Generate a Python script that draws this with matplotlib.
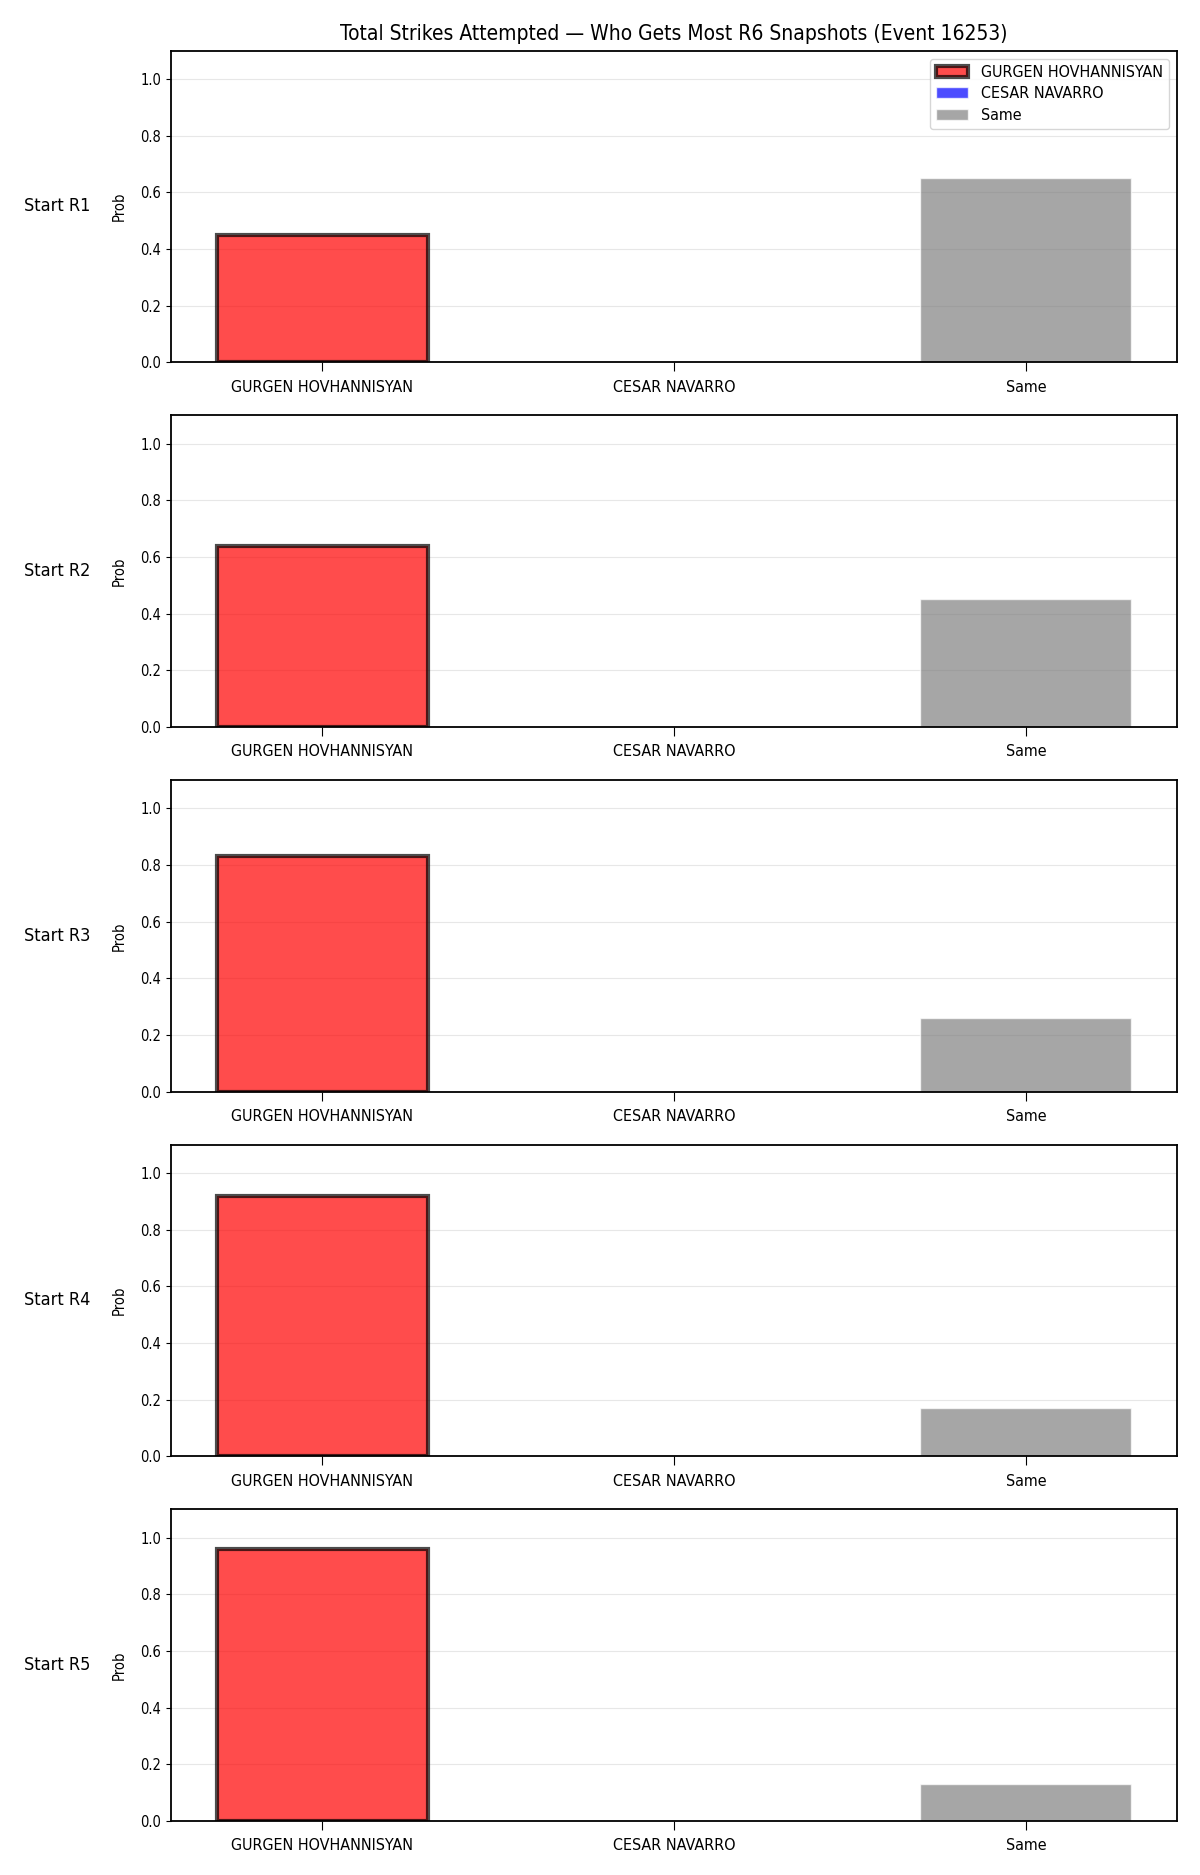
import numpy as np
import matplotlib
matplotlib.use("Agg")
import matplotlib.pyplot as plt

# Data
fighters = ["GURGEN HOVHANNISYAN", "CESAR NAVARRO", "Same"]
rounds = ["Start R1", "Start R2", "Start R3", "Start R4", "Start R5"]
p_gurgen = [0.45, 0.64, 0.83, 0.92, 0.96]
p_cesar = [0.0, 0.0, 0.0, 0.0, 0.0]
p_same = [0.65, 0.45, 0.26, 0.17, 0.13]

colors = ["red", "blue", "gray"]

plt.rcParams["font.family"] = ["DejaVu Sans"]
plt.rcParams["font.stretch"] = "condensed"

fig, axes = plt.subplots(5, 1, figsize=(12, 18.75), dpi=100)
fig.subplots_adjust(left=0.1425, right=0.981, top=0.973, bottom=0.0288, hspace=0.17)

x = np.arange(len(fighters))
for i, ax in enumerate(axes):
    vals = [p_gurgen[i], p_cesar[i], p_same[i]]
    winner = int(np.argmax(vals[:2]))
    for j in range(len(fighters)):
        if j == winner:
            ax.bar(x[j], vals[j], width=0.6, color=colors[j], alpha=0.7,
                   edgecolor="black", linewidth=3, label=fighters[j])
        else:
            ax.bar(x[j], vals[j], width=0.6, color=colors[j], alpha=0.7,
                   edgecolor="white", linewidth=1, label=fighters[j])
    ax.set_ylim(0, 1.1)
    ax.set_xticks(x)
    ax.set_xticklabels(fighters, fontsize=11.5)
    ax.tick_params(axis="x", length=6.5, pad=6)
    ax.tick_params(axis="y", labelsize=10.5)
    ax.set_ylabel("Prob", fontsize=10.5, labelpad=10)
    ax.grid(axis="y", alpha=0.3)
    ax.set_axisbelow(True)
    ax.text(-0.08, 0.5, rounds[i], transform=ax.transAxes, fontsize=13,
            ha="right", va="center")
    for s in ax.spines.values():
        s.set_linewidth(1.3)
    if i == 0:
        ax.legend(loc="upper right", fontsize=11.5, labelspacing=0.4)

axes[0].set_title("Total Strikes Attempted \u2014 Who Gets Most R6 Snapshots (Event 16253)",
                  fontsize=15, pad=8)

fig.savefig("out.png", dpi=100)
